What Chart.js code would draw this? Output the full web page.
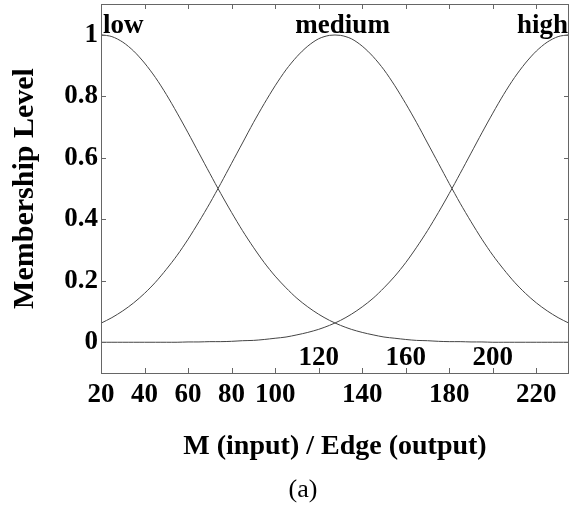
<!DOCTYPE html>
<html>
<head>
<meta charset="utf-8">
<script src="https://cdn.jsdelivr.net/npm/chart.js@4.4.1/dist/chart.umd.min.js"></script>
<style>
  body { margin: 0; background: #fff; }
  #wrap { width: 570px; height: 506px; }
</style>
</head>
<body>
<div id="wrap"><canvas id="mfChart"></canvas></div>
<script>
const xValues = [20, 25, 30, 35, 40, 45, 50, 55, 60, 65, 70, 75, 80, 85, 90, 95, 100, 105, 110, 115,
  120, 125, 130, 135, 140, 145, 150, 155, 160, 165, 170, 175, 180, 185, 190, 195, 200, 205, 210, 215,
  220, 225, 230, 235];
const lowLevel = [1, 0.994, 0.976, 0.947, 0.908, 0.861, 0.806, 0.745, 0.681, 0.615, 0.549, 0.484, 0.422,
  0.363, 0.309, 0.259, 0.215, 0.177, 0.143, 0.115, 0.091, 0.071, 0.055, 0.042, 0.032, 0.024, 0.017,
  0.013, 0.009, 0.006, 0.005, 0.003, 0.002, 0.002, 0.001, 0.001, 0, 0, 0, 0, 0, 0, 0, 0];
const mediumLevel = [0.062, 0.080, 0.102, 0.128, 0.159, 0.195, 0.237, 0.283, 0.335, 0.392, 0.452, 0.516,
  0.582, 0.648, 0.714, 0.776, 0.834, 0.886, 0.929, 0.963, 0.987, 0.998, 0.998, 0.987, 0.963, 0.929,
  0.886, 0.834, 0.776, 0.714, 0.648, 0.582, 0.516, 0.452, 0.392, 0.335, 0.283, 0.237, 0.195, 0.159,
  0.128, 0.102, 0.080, 0.062];
const highLevel = [0, 0, 0, 0, 0, 0, 0, 0, 0.001, 0.001, 0.002, 0.002, 0.003, 0.005, 0.006, 0.009, 0.013,
  0.017, 0.024, 0.032, 0.042, 0.055, 0.071, 0.091, 0.115, 0.143, 0.177, 0.215, 0.259, 0.309, 0.363,
  0.422, 0.484, 0.549, 0.615, 0.681, 0.745, 0.806, 0.861, 0.908, 0.947, 0.976, 0.994, 1];

const setNames = ['low', 'medium', 'high'];
const nameAnchors = [20, 131, 235]; // where each set name is written (x value)

const xTicks = [20, 40, 60, 80, 100, 120, 140, 160, 180, 200, 220];
const xTicksInside = [120, 160, 200]; // these labels sit above the axis line
const yTicks = [0, 0.2, 0.4, 0.6, 0.8, 1];

const frameColor = '#666';
const curveColor = '#444';
const boldFont = '"Liberation Serif", "Times New Roman", serif';

const toPoints = ys => xValues.map((x, i) => ({ x, y: ys[i] }));

// frame, inward ticks and the extra labels (matlab style)
const decorations = {
    id: 'decorations',
    afterDraw(chart) {
        const { ctx, chartArea: a, scales: { x, y } } = chart;
        ctx.save();
        ctx.strokeStyle = frameColor;
        ctx.lineWidth = 1;
        ctx.strokeRect(a.left + 0.5, a.top + 0.5, a.right - a.left - 1, a.bottom - a.top);
        ctx.beginPath();
        xTicks.forEach(v => {
            const px = Math.round(x.getPixelForValue(v)) + 0.5;
            ctx.moveTo(px, a.bottom); ctx.lineTo(px, a.bottom - 5);
            ctx.moveTo(px, a.top); ctx.lineTo(px, a.top + 5);
        });
        yTicks.forEach(v => {
            const py = Math.round(y.getPixelForValue(v)) + 0.5;
            ctx.moveTo(a.left, py); ctx.lineTo(a.left + 5, py);
            ctx.moveTo(a.right, py); ctx.lineTo(a.right - 5, py);
        });
        ctx.stroke();

        ctx.fillStyle = '#000';
        ctx.font = 'bold 27px ' + boldFont;
        ctx.textAlign = 'center';
        ctx.textBaseline = 'middle';
        xTicksInside.forEach(v => {
            ctx.fillText(String(v), x.getPixelForValue(v), a.bottom - 15);
        });

        ctx.textBaseline = 'alphabetic';
        const nameY = y.getPixelForValue(1) - 2;
        setNames.forEach((name, i) => {
            ctx.textAlign = i === 0 ? 'left' : (i === 2 ? 'right' : 'center');
            const off = i === 0 ? 2 : (i === 2 ? -1 : 0);
            ctx.fillText(name, x.getPixelForValue(nameAnchors[i]) + off, nameY);
        });

        ctx.font = '26px ' + boldFont;
        ctx.textAlign = 'center';
        ctx.fillText('(a)', 303, 497);
        ctx.restore();
    }
};

const ctx = document.getElementById('mfChart').getContext('2d');
new Chart(ctx, {
    type: 'line',
    data: {
        datasets: [
            { label: 'low', data: toPoints(lowLevel) },
            { label: 'medium', data: toPoints(mediumLevel) },
            { label: 'high', data: toPoints(highLevel) }
        ].map(d => ({
            ...d,
            borderColor: curveColor,
            borderWidth: 1,
            pointRadius: 0,
            fill: false,
            tension: 0.3
        }))
    },
    options: {
        responsive: true,
        maintainAspectRatio: false,
        animation: false,
        layout: { padding: { top: 4, right: 1, bottom: 40, left: 0 } },
        plugins: { legend: { display: false }, tooltip: { enabled: false } },
        scales: {
            x: {
                type: 'linear',
                min: 20,
                max: 235,
                afterBuildTicks: s => { s.ticks = xTicks.map(v => ({ value: v })); },
                afterFit: s => { s.height = 93; s.paddingLeft = 0; s.paddingRight = 0; },
                grid: { display: false, drawTicks: false },
                border: { display: false },
                ticks: {
                    autoSkip: false,
                    maxRotation: 0,
                    padding: 6,
                    color: '#000',
                    font: { family: boldFont, size: 27, weight: 'bold' },
                    callback: v => (xTicksInside.includes(v) ? '' : String(v))
                },
                title: {
                    display: true,
                    text: 'M (input) / Edge (output)',
                    color: '#000',
                    font: { family: boldFont, size: 28, weight: 'bold' },
                    padding: { top: 0, bottom: 2 }
                }
            },
            y: {
                min: -0.1,
                max: 1.1,
                afterBuildTicks: s => { s.ticks = yTicks.map(v => ({ value: v })); },
                afterFit: s => { s.width = 101; s.paddingTop = 0; s.paddingBottom = 0; },
                grid: { display: false, drawTicks: false },
                border: { display: false },
                ticks: {
                    padding: 3,
                    color: '#000',
                    font: { family: boldFont, size: 27, weight: 'bold' },
                    callback: v => String(Math.round(v * 10) / 10)
                },
                title: {
                    display: true,
                    text: 'Membership Level',
                    color: '#000',
                    font: { family: boldFont, size: 30, weight: 'bold' },
                    padding: { top: 7, bottom: 0 }
                }
            }
        }
    },
    plugins: [decorations]
});
</script>
</body>
</html>
